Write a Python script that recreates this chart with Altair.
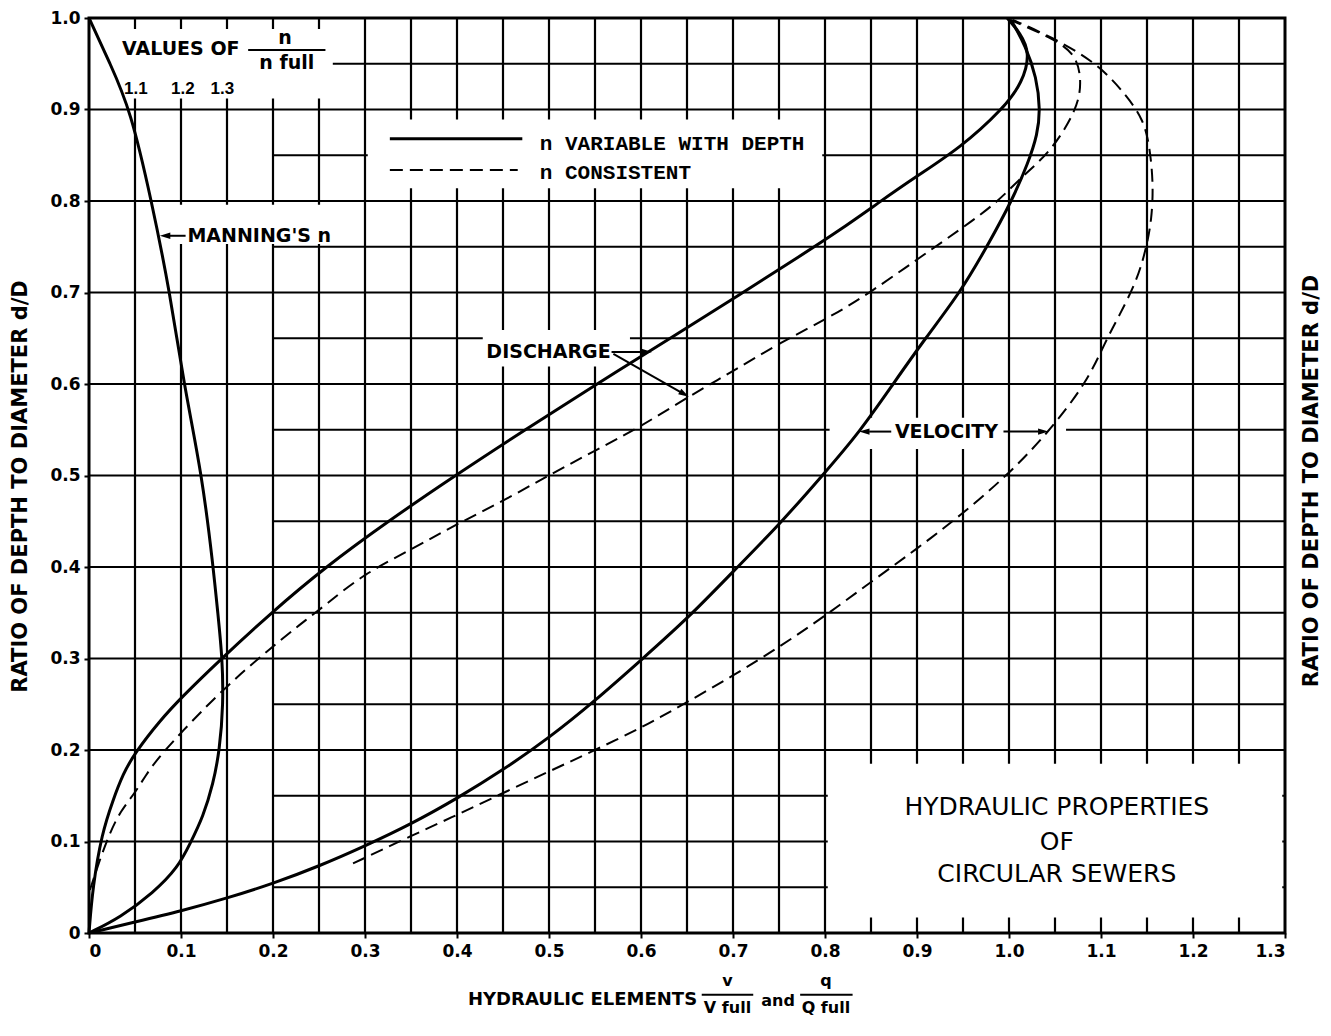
import altair as alt
import pandas as pd

# ---------------- curve data (x = hydraulic element, y = d/D) ----------------
manning_x = [0.0, 0.034, 0.07, 0.097, 0.11, 0.124, 0.135, 0.142, 0.146, 0.145, 0.14, 0.135,
             0.123, 0.103, 0.088, 0.068, 0.045, 0.023, 0.0]
manning_y = [0.0, 0.017, 0.044, 0.072, 0.098, 0.127, 0.163, 0.2, 0.25, 0.3, 0.35, 0.4,
             0.5, 0.6, 0.7, 0.8, 0.9, 0.95, 1.0]

dis_var_x = [0.0, 0.004, 0.014, 0.026, 0.037, 0.05, 0.077, 0.1, 0.142, 0.198, 0.257, 0.325,
             0.398, 0.474, 0.552, 0.632, 0.708, 0.77, 0.816, 0.858, 0.898, 0.947, 0.993, 1.015,
             1.023, 1.012, 0.998]
dis_var_y = [0.0, 0.05, 0.109, 0.145, 0.174, 0.197, 0.232, 0.257, 0.298, 0.35, 0.4, 0.45,
             0.5, 0.55, 0.6, 0.65, 0.698, 0.738, 0.768, 0.798, 0.826, 0.858, 0.9, 0.93,
             0.962, 0.984, 1.0]

dis_con_x = [0.001, 0.01, 0.022, 0.034, 0.05, 0.062, 0.075, 0.099, 0.146, 0.197, 0.229, 0.259,
             0.298, 0.352, 0.398, 0.45, 0.501, 0.548, 0.599, 0.653, 0.7, 0.751, 0.809, 0.849,
             0.9, 0.947, 0.987, 1.015, 1.045, 1.074, 1.079, 1.074, 1.052, 1.001]
dis_con_y = [0.047, 0.075, 0.108, 0.133, 0.153, 0.173, 0.191, 0.218, 0.267, 0.311, 0.337, 0.36,
             0.392, 0.42, 0.446, 0.472, 0.501, 0.526, 0.553, 0.587, 0.614, 0.645, 0.675, 0.7,
             0.736, 0.769, 0.798, 0.828, 0.853, 0.9, 0.929, 0.958, 0.976, 0.998]

vel_var_x = [0.0, 0.05, 0.1, 0.15, 0.2, 0.25, 0.3, 0.352, 0.4, 0.45, 0.501, 0.548,
             0.602, 0.653, 0.7, 0.751, 0.798, 0.838, 0.874, 0.909, 0.947, 0.976, 1.003, 1.021,
             1.031, 1.034, 1.03, 1.018, 1.002]
vel_var_y = [0.0, 0.012, 0.024, 0.038, 0.054, 0.073, 0.095, 0.12, 0.147, 0.178, 0.214, 0.252,
             0.3, 0.346, 0.395, 0.447, 0.501, 0.548, 0.6, 0.65, 0.7, 0.75, 0.8, 0.842,
             0.873, 0.9, 0.935, 0.97, 0.998]

vel_con_x = [0.287, 0.352, 0.4, 0.45, 0.501, 0.548, 0.602, 0.646, 0.7, 0.751, 0.798, 0.849,
             0.9, 0.947, 0.998, 1.041, 1.085, 1.104, 1.12, 1.14, 1.15, 1.155, 1.157, 1.153,
             1.146, 1.128, 1.096, 1.045, 1.004]
vel_con_y = [0.076, 0.107, 0.129, 0.153, 0.177, 0.199, 0.225, 0.25, 0.281, 0.313, 0.345, 0.383,
             0.42, 0.456, 0.5, 0.545, 0.602, 0.645, 0.675, 0.715, 0.752, 0.78, 0.817, 0.86,
             0.889, 0.915, 0.951, 0.98, 0.998]

# ---------------- axes / grid values ----------------
x_ticks = [0, 0.1, 0.2, 0.3, 0.4, 0.5, 0.6, 0.7, 0.8, 0.9, 1.0, 1.1, 1.2, 1.3]
y_ticks = [0, 0.1, 0.2, 0.3, 0.4, 0.5, 0.6, 0.7, 0.8, 0.9, 1.0]
grid_x = [0.05, 0.1, 0.15, 0.2, 0.25, 0.3, 0.35, 0.4, 0.45, 0.5, 0.55, 0.6, 0.65, 0.7, 0.75,
          0.8, 0.85, 0.9, 0.95, 1.0, 1.05, 1.1, 1.15, 1.2, 1.25]
grid_major_y = [0.1, 0.2, 0.3, 0.4, 0.5, 0.6, 0.7, 0.8, 0.9]
grid_half_y = [0.05, 0.15, 0.25, 0.35, 0.45, 0.65, 0.75, 0.85, 0.95]
half_line_start = 0.2
grid_split_y = 0.55
grid_split_gap = [0.805, 1.062]

# white label areas (x1, x2, y1, y2)
box_x1 = [0.003, 0.093, 0.428, 0.303, 0.81, 0.803]
box_x2 = [0.265, 0.272, 0.588, 0.797, 0.985, 1.297]
box_y1 = [0.912, 0.753, 0.619, 0.814, 0.529, 0.017]
box_y2 = [0.988, 0.796, 0.659, 0.889, 0.563, 0.185]

# arrows and fraction bars
seg_x1 = [0.086, 0.568, 0.570, 0.848, 0.994, 0.173, 0.666, 0.773]
seg_x2 = [0.105, 0.603, 0.643, 0.872, 1.032, 0.257, 0.722, 0.830]
seg_y1 = [0.762, 0.635, 0.633, 0.548, 0.548, 0.965, -0.0675, -0.0675]
seg_y2 = [0.762, 0.635, 0.591, 0.548, 0.548, 0.965, -0.0675, -0.0675]
head_x = [0.077, 0.612, 0.652, 0.837, 1.043]
head_y = [0.762, 0.635, 0.586, 0.548, 0.548]
head_angle = [180, 0, 30, 180, 0]

# ---------------- build tables ----------------
def curve(name, xs, ys):
    return pd.DataFrame({"series": name, "x": xs, "y": ys, "i": list(range(len(xs)))})

solid_df = pd.concat([curve("Manning's n", manning_x, manning_y),
                      curve("Discharge (n variable)", dis_var_x, dis_var_y),
                      curve("Velocity (n variable)", vel_var_x, vel_var_y)])
dashed_df = pd.concat([curve("Discharge (n constant)", dis_con_x, dis_con_y),
                       curve("Velocity (n constant)", vel_con_x, vel_con_y)])

rows = []
for gx in grid_x:
    rows.append({"x": gx, "x2": gx, "y": 0, "y2": 1})
for gy in grid_major_y:
    rows.append({"x": 0, "x2": 1.3, "y": gy, "y2": gy})
for gy in grid_half_y:
    rows.append({"x": half_line_start, "x2": 1.3, "y": gy, "y2": gy})
rows.append({"x": half_line_start, "x2": grid_split_gap[0], "y": grid_split_y, "y2": grid_split_y})
rows.append({"x": grid_split_gap[1], "x2": 1.3, "y": grid_split_y, "y2": grid_split_y})
grid_df = pd.DataFrame(rows)

box_df = pd.DataFrame({"x": box_x1, "x2": box_x2, "y": box_y1, "y2": box_y2})
seg_df = pd.DataFrame({"x": seg_x1, "x2": seg_x2, "y": seg_y1, "y2": seg_y2})
head_df = pd.DataFrame({"x": head_x, "y": head_y, "a": head_angle})

xscale = alt.Scale(domain=[0, 1.3], nice=False, zero=False)
yscale = alt.Scale(domain=[0, 1.0], nice=False, zero=False)
x_axis = alt.Axis(values=x_ticks, title=None, grid=False, domain=False, tickSize=5, tickWidth=2,
                  tickColor="black", labelPadding=5,
                  labelExpr="datum.value == 0 ? '0' : format(datum.value, '.1f')",
                  labelFont="DejaVu Sans", labelFontWeight="bold", labelFontSize=17,
                  labelColor="black")
y_axis = alt.Axis(values=y_ticks, title=None, grid=False, domain=False, tickSize=5, tickWidth=2,
                  tickColor="black", labelPadding=4,
                  labelExpr="datum.value == 0 ? '0' : format(datum.value, '.1f')",
                  labelFont="DejaVu Sans", labelFontWeight="bold", labelFontSize=17,
                  labelColor="black")
X = alt.X("x:Q", scale=xscale, axis=x_axis)
Y = alt.Y("y:Q", scale=yscale, axis=y_axis)

grid = alt.Chart(grid_df).mark_rule(color="black", strokeWidth=2.2).encode(
    x=X, x2="x2:Q", y=Y, y2="y2:Q")
boxes = alt.Chart(box_df).mark_rect(color="white", opacity=1).encode(
    x=X, x2="x2:Q", y=Y, y2="y2:Q")
solid = alt.Chart(solid_df).mark_line(color="black", strokeWidth=3, interpolate="basis").encode(
    x=X, y=Y, detail="series:N", order="i:Q")
dashed = alt.Chart(dashed_df).mark_line(color="black", strokeWidth=2, strokeDash=[13, 7],
                                        interpolate="basis").encode(
    x=X, y=Y, detail="series:N", order="i:Q")
segs = alt.Chart(seg_df).mark_rule(color="black", strokeWidth=2).encode(
    x=X, x2="x2:Q", y=Y, y2="y2:Q")
heads = alt.Chart(head_df).mark_point(shape="M0,0 L-2,-0.6 L-2,0.6 Z", filled=True, color="black",
                                      opacity=1, size=110).encode(
    x=X, y=Y, angle=alt.Angle("a:Q", scale=None))

# legend samples
leg_solid_df = pd.DataFrame({"x": [0.327], "x2": [0.471], "y": [0.868], "y2": [0.868]})
leg_dash_df = pd.DataFrame({"x": [0.327], "x2": [0.466], "y": [0.834], "y2": [0.834]})
leg_solid = alt.Chart(leg_solid_df).mark_rule(color="black", strokeWidth=3).encode(
    x=X, x2="x2:Q", y=Y, y2="y2:Q")
leg_dash = alt.Chart(leg_dash_df).mark_rule(color="black", strokeWidth=2,
                                            strokeDash=[13, 7]).encode(
    x=X, x2="x2:Q", y=Y, y2="y2:Q")


def texts(xs, ys, labels, align="center", font="DejaVu Sans", size=19, weight="bold", angle=0):
    df = pd.DataFrame({"x": xs, "y": ys, "t": labels})
    return alt.Chart(df).mark_text(align=align, baseline="middle", font=font, fontSize=size,
                                   fontWeight=weight, angle=angle, color="black").encode(
        x=X, y=Y, text="t:N")


labels_left = texts([0.107, 0.876, 0.036], [0.762, 0.548, 0.966],
                    ["MANNING'S n", "VELOCITY", "VALUES OF"], align="left")
labels_right = texts([0.567], [0.635], ["DISCHARGE"], align="right")
frac_top = texts([0.213, 0.215], [0.978, 0.951], ["n", "n full"], size=19)
n_vals = texts([0.051, 0.102, 0.145], [0.922, 0.922, 0.922], ["1.1", "1.2", "1.3"],
               font="Liberation Sans", size=17)
legend_txt = texts([0.49, 0.49], [0.862, 0.831], ["n VARIABLE WITH DEPTH", "n CONSISTENT"],
                   align="left", font="Liberation Mono", size=21)
title_box = texts([1.052, 1.052, 1.052], [0.138, 0.099, 0.064],
                  ["HYDRAULIC PROPERTIES", "OF", "CIRCULAR SEWERS"], size=25, weight="normal")
y_titles = texts([-0.074, 1.3295], [0.488, 0.494],
                 ["RATIO OF DEPTH TO DIAMETER d/D", "RATIO OF DEPTH TO DIAMETER d/D"],
                 size=21, angle=270)
x_title = texts([0.661], [-0.073], ["HYDRAULIC ELEMENTS"], align="right", size=18)
x_frac = texts([0.694, 0.694, 0.749, 0.801, 0.801], [-0.053, -0.082, -0.074, -0.053, -0.082],
               ["v", "V full", "and", "q", "Q full"], size=16)

chart = alt.layer(
    grid, boxes, solid, dashed, leg_solid, leg_dash, segs, heads,
    labels_left, labels_right, frac_top, n_vals, legend_txt, title_box, y_titles, x_title, x_frac
).properties(
    width=1196, height=915,
    padding={"left": 81, "top": 10, "right": 37, "bottom": 85},
    autosize=alt.AutoSizeParams(type="none"),
    background="white",
).configure_view(stroke="black", strokeWidth=3)

chart.save("out.html", embed_options={"renderer": "svg", "actions": False})
